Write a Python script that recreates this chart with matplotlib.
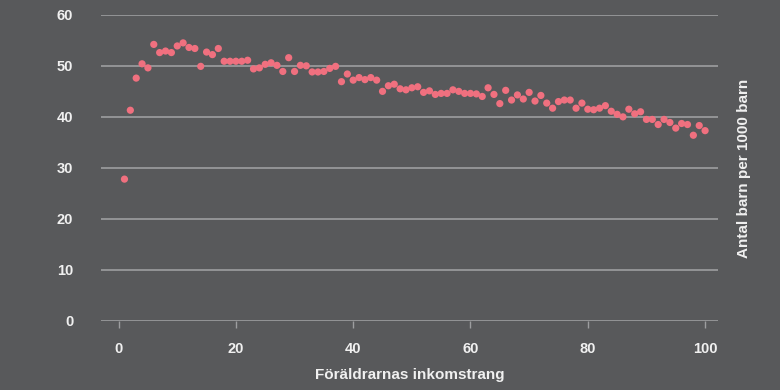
import matplotlib

matplotlib.use("Agg")
import matplotlib.pyplot as plt
from matplotlib import font_manager

# percentile rank of the parents' income, 1..100
rank = list(range(1, 101))

# children per 1000 children
per_1000 = [
    27.8, 41.3, 47.6, 50.4, 49.6, 54.2, 52.6, 52.9, 52.6, 53.9,
    54.5, 53.6, 53.4, 49.9, 52.7, 52.2, 53.4, 50.9, 50.9, 50.9,
    50.9, 51.1, 49.4, 49.6, 50.3, 50.6, 50.1, 48.9, 51.6, 48.9,
    50.1, 50.0, 48.8, 48.8, 48.9, 49.5, 49.9, 46.9, 48.4, 47.2,
    47.7, 47.3, 47.7, 47.2, 45.0, 46.1, 46.4, 45.5, 45.3, 45.7,
    45.9, 44.8, 45.1, 44.4, 44.6, 44.6, 45.3, 45.0, 44.6, 44.6,
    44.5, 44.0, 45.7, 44.4, 42.6, 45.2, 43.3, 44.3, 43.5, 44.8,
    43.1, 44.2, 42.7, 41.7, 43.0, 43.3, 43.3, 41.7, 42.7, 41.5,
    41.4, 41.7, 42.2, 41.1, 40.5, 40.0, 41.5, 40.6, 41.0, 39.5,
    39.5, 38.5, 39.5, 38.9, 37.8, 38.7, 38.5, 36.4, 38.3, 37.3,
]

BG = "#58595b"
GRID = "#9d9ea0"
TEXT = "#f0f0f0"
DOT = "#f0707f"

available = {f.name for f in font_manager.fontManager.ttflist}
family = ["Liberation Sans Narrow", "DejaVu Sans"] if "Liberation Sans Narrow" in available else ["Liberation Sans", "DejaVu Sans"]
plt.rcParams["font.family"] = family

fig = plt.figure(figsize=(7.8, 3.9), dpi=100, facecolor=BG)
ax = fig.add_axes([0.1295, 0.177, 0.791, 0.785], facecolor=BG)

ax.scatter(rank, per_1000, s=27, color=DOT, edgecolors="none", zorder=3)

ax.set_xlim(-3, 102.2)
ax.set_ylim(0, 60)
ax.set_xticks([0, 20, 40, 60, 80, 100])
ax.set_yticks([0, 10, 20, 30, 40, 50, 60])
ax.grid(True, axis="y", color=GRID, linewidth=1.2)
ax.set_axisbelow(True)
for s in ax.spines.values():
    s.set_visible(False)

ax.tick_params(axis="y", length=0, pad=20, labelcolor=TEXT, labelsize=10.5)
ax.tick_params(axis="x", length=5, width=1, color=GRID, pad=10,
               labelcolor=TEXT, labelsize=10.5)
for lab in ax.get_xticklabels() + ax.get_yticklabels():
    lab.set_fontweight("bold")

ax.set_xlabel("Föräldrarnas inkomstrang", color=TEXT, fontsize=11,
              fontweight="bold", labelpad=9)
ax.yaxis.set_label_position("right")
ax.set_ylabel("Antal barn per 1000 barn", color=TEXT, fontsize=11,
              fontweight="bold", labelpad=14)

fig.savefig("out.png", dpi=100, facecolor=BG)
